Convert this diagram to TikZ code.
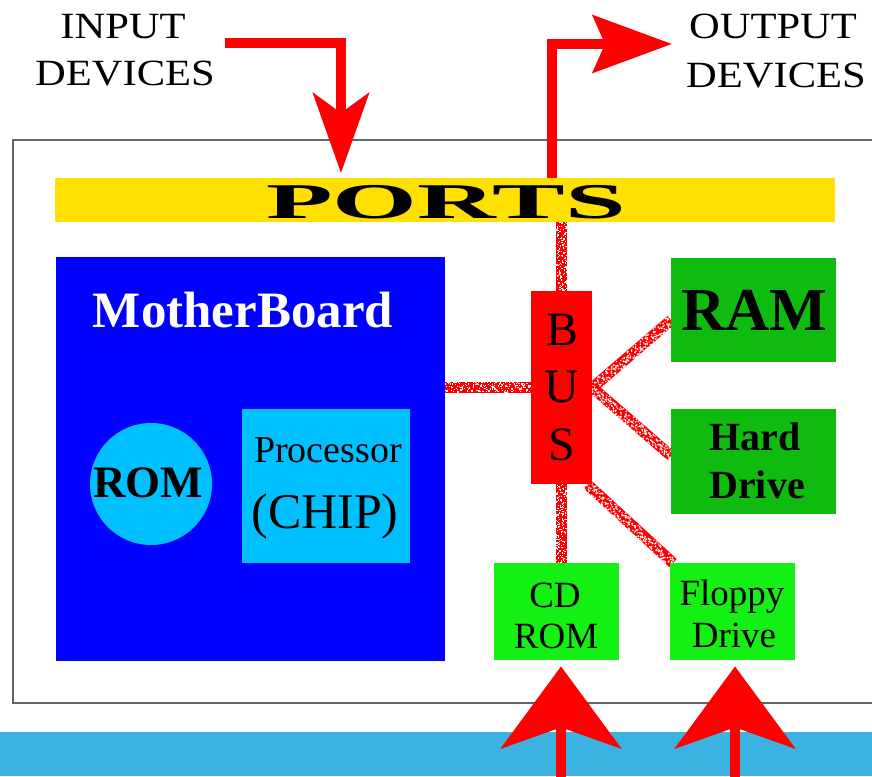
\documentclass[tikz,border=0pt]{standalone}
\usepackage{fontspec}
\setmainfont{Liberation Serif}
\usetikzlibrary{arrows.meta,calc,decorations.markings}

\definecolor{mbblue}{HTML}{0000FF}
\definecolor{chipcyan}{HTML}{00C0FF}
\definecolor{darkgreen}{HTML}{10BB10}
\definecolor{lightgreen}{HTML}{14F014}
\definecolor{portyellow}{HTML}{FFE000}
\definecolor{stripblue}{HTML}{3BB2E0}
\definecolor{framegray}{HTML}{666666}

\newcommand{\fs}[1]{\fontsize{#1}{#1}\selectfont}
\pgfdeclarelayer{wires}
\pgfsetlayers{wires,main}

\begin{document}
\begin{tikzpicture}[x=1pt,y=-1pt,
  box/.style={rectangle,inner sep=0pt,anchor=north west,draw=none},
  lbl/.style={anchor=base,inner sep=0pt},
  busline/.style={draw=red,line width=11pt,
    postaction={decorate,decoration={markings,
      mark=between positions 0 and 1 step 1.4pt with {
        \fill[white] ({rand*0.8},{rand*5.4}) rectangle ++(1.4,1.4);
        \fill[white] ({rand*0.8},{rand*5.4}) rectangle ++(1.2,1.2);
        \fill[white] ({rand*0.8},{rand*5.4}) rectangle ++(1.0,1.0);
      }}}},
  bigarrow/.style={draw=red,line width=10pt,line join=miter},
  headdown/.style={-{Stealth[length=80pt,width=56pt,inset=20pt]}},
  headup/.style={-{Stealth[length=82pt,width=120pt,inset=21pt]}},
  headright/.style={-{Stealth[length=79pt,width=57pt,inset=12pt]}},
]
\pgfmathsetseed{4242}
\useasboundingbox (0,0) rectangle (872,776);
\clip (0,0) rectangle (872,776);

% floor strip and case outline
\fill[stripblue] (0,732) rectangle (872,776);
\draw[framegray,line width=1.3pt] (13,140) rectangle (900,703);

% ports bar
\node[box,fill=portyellow,minimum width=780pt,minimum height=44pt] (ports) at (55,178) {};
\node[lbl] (portstext) at (446,218) {\scalebox{2.18}[1]{\fs{50}\bfseries PORTS}};

% motherboard with ROM and processor
\node[box,fill=mbblue,minimum width=389pt,minimum height=404pt] (mb) at (56,257) {};
\node[lbl,text=white] (mbtext) at (243,327) {\fs{51}\bfseries MotherBoard};
\node[circle,fill=chipcyan,minimum size=122pt,inner sep=0pt] (rom) at (151,484) {};
\node[lbl] (romtext) at (148,497) {\fs{45}\bfseries ROM};
\node[box,fill=chipcyan,minimum width=168pt,minimum height=154pt] (cpu) at (242,409) {};
\node[lbl] (cputext1) at (328,462) {\fs{38}Processor};
\node[lbl] (cputext2) at (325,528) {\fs{50}(CHIP)};

% bus
\node[box,fill=red,minimum width=61pt,minimum height=193pt] (bus) at (531,291) {};
\node[lbl] (busB) at (562,345) {\fs{48}B};
\node[lbl] (busU) at (562,402) {\fs{48}U};
\node[lbl] (busS) at (562,460) {\fs{48}S};

% peripherals
\node[box,fill=darkgreen,minimum width=165pt,minimum height=104pt] (ram) at (671,258) {};
\node[lbl] (ramtext) at (754,330) {\fs{61}\bfseries RAM};
\node[box,fill=darkgreen,minimum width=165pt,minimum height=105pt] (hdd) at (671,409) {};
\node[lbl] (hddtext1) at (755,450) {\fs{40}\bfseries Hard};
\node[lbl] (hddtext2) at (757,498) {\fs{40}\bfseries Drive};
\node[box,fill=lightgreen,minimum width=125pt,minimum height=97pt] (cd) at (494,563) {};
\node[lbl] (cdtext1) at (555,607) {\fs{37}CD};
\node[lbl] (cdtext2) at (556,648) {\fs{37}ROM};
\node[box,fill=lightgreen,minimum width=125pt,minimum height=97pt] (fd) at (670,563) {};
\node[lbl] (fdtext1) at (732,605) {\fs{37}Floppy};
\node[lbl] (fdtext2) at (734,647) {\fs{37}Drive};

% bus wiring, kept underneath the boards
\begin{pgfonlayer}{wires}
\draw[busline] (bus.north) -- (bus.north |- ports.south);
\draw[busline] (bus.west) -- (bus.west -| mb.east);
\draw[busline] (bus.east) -- ($(ram.west)+(0,10)$);
\draw[busline] (bus.east) -- ($(hdd.west)+(0,-6)$);
\draw[busline] (bus.south) -- (bus.south |- cd.north);
\draw[busline] ($(bus.south east)+(-5,0)$) -- ($(fd.north west)+(3,0)$);
\end{pgfonlayer}

% input and output arrows
\coordinate (instart) at (225,43);
\coordinate (inturn) at (341,43);
\draw[bigarrow,headdown] (instart) -- (inturn) -- ($(ports.north -| inturn)+(0,-5)$);
\coordinate (outturn) at (552,44);
\coordinate (outtip) at (672,44);
\draw[bigarrow,headright] (ports.north -| outturn) -- (outturn) -- (outtip);

% drives fed from below
\coordinate (cdfoot) at (561,790);
\coordinate (fdfoot) at (735,790);
\draw[bigarrow,headup] (cdfoot) -- ($(cd.south -| cdfoot)+(0,6)$);
\draw[bigarrow,headup] (fdfoot) -- ($(fd.south -| fdfoot)+(0,6)$);

% device labels
\node[lbl] (in1) at (123,38) {\scalebox{1.15}[1]{\fs{37}INPUT}};
\node[lbl] (in2) at (125,85) {\scalebox{1.15}[1]{\fs{37}DEVICES}};
\node[lbl] (out1) at (773,38) {\scalebox{1.15}[1]{\fs{37}OUTPUT}};
\node[lbl] (out2) at (776,87) {\scalebox{1.15}[1]{\fs{37}DEVICES}};
\end{tikzpicture}
\end{document}
